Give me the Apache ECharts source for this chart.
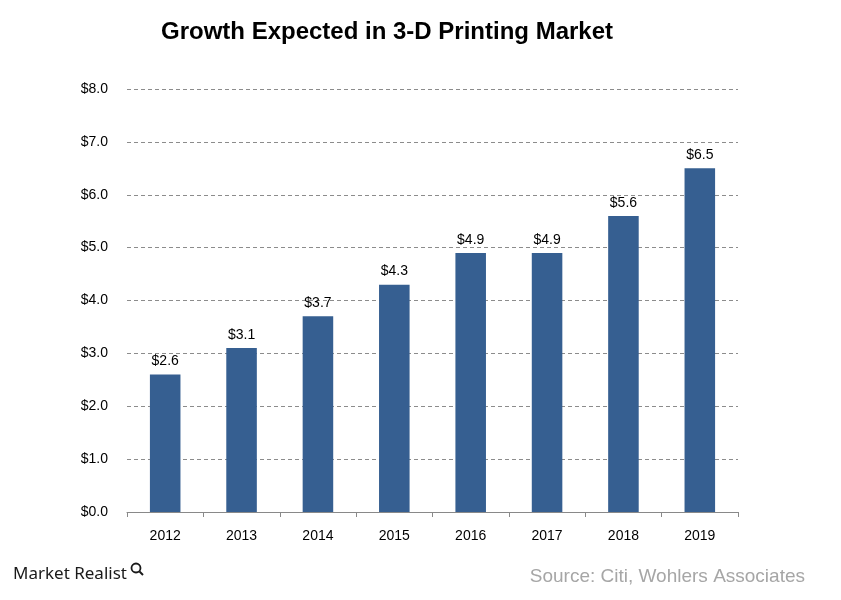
<!DOCTYPE html>
<html><head><meta charset="utf-8">
<script src="https://cdn.jsdelivr.net/npm/echarts@6/dist/echarts.min.js"></script>
<style>html,body{margin:0;padding:0;background:#fff}#c{width:841px;height:600px}</style>
</head><body><div id="c"></div>
<script>
var categories = ['2012','2013','2014','2015','2016','2017','2018','2019'];
var values = [2.6, 3.1, 3.7, 4.3, 4.9, 4.9, 5.6, 6.5];
var chart = echarts.init(document.getElementById('c'), null, {renderer:'canvas'});
chart.setOption({
  animation: false,
  backgroundColor: '#fff',
  title: {
    text: 'Growth Expected in 3-D Printing Market',
    left: 382, top: 15, textAlign: 'center',
    textStyle: {fontFamily: 'Liberation Sans, Arial', fontWeight: 'bold', fontSize: 24, color: '#000'}
  },
  grid: {left: 127, right: 103, top: 89, bottom: 88},
  xAxis: {
    type: 'category', data: categories,
    axisLine: {lineStyle: {color: '#898989', width: 1}},
    axisTick: {show: true, length: 5, lineStyle: {color: '#898989'}},
    axisLabel: {color: '#000', fontSize: 14, fontFamily: 'Liberation Sans, Arial', margin: 17}
  },
  yAxis: {
    type: 'value', min: 0, max: 8, interval: 1,
    axisLine: {show: false}, axisTick: {show: false},
    splitLine: {lineStyle: {color: '#8c8c8c', type: [4, 3], width: 1}},
    axisLabel: {color: '#000', fontSize: 14, fontFamily: 'Liberation Sans, Arial', margin: 19,
      formatter: function(v){ return '$' + v.toFixed(1); }}
  },
  series: [{
    type: 'bar', data: values, barWidth: '40%',
    itemStyle: {color: '#365f91'},
    label: {show: true, position: 'top', distance: 6, color: '#000', fontSize: 14,
      fontFamily: 'Liberation Sans, Arial',
      formatter: function(p){ return '$' + p.value.toFixed(1); }}
  }],
  graphic: [
    {type: 'text', left: 13, top: 566, style: {text: 'Market Realist', fontSize: 17, fontFamily: 'Noto Sans, Open Sans, sans-serif', fill: '#1a1a1a'}},
    {type: 'circle', shape: {cx: 136, cy: 568, r: 4.5}, style: {fill: 'none', stroke: '#1a1a1a', lineWidth: 1.8}},
    {type: 'line', shape: {x1: 139.5, y1: 571.5, x2: 143, y2: 575}, style: {stroke: '#1a1a1a', lineWidth: 2}},
    {type: 'text', right: 36, top: 567, style: {text: 'Source: Citi, Wohlers Associates', fontSize: 19, fontFamily: 'Liberation Sans, Arial', fill: '#a6a6a6'}}
  ]
});
</script></body></html>
